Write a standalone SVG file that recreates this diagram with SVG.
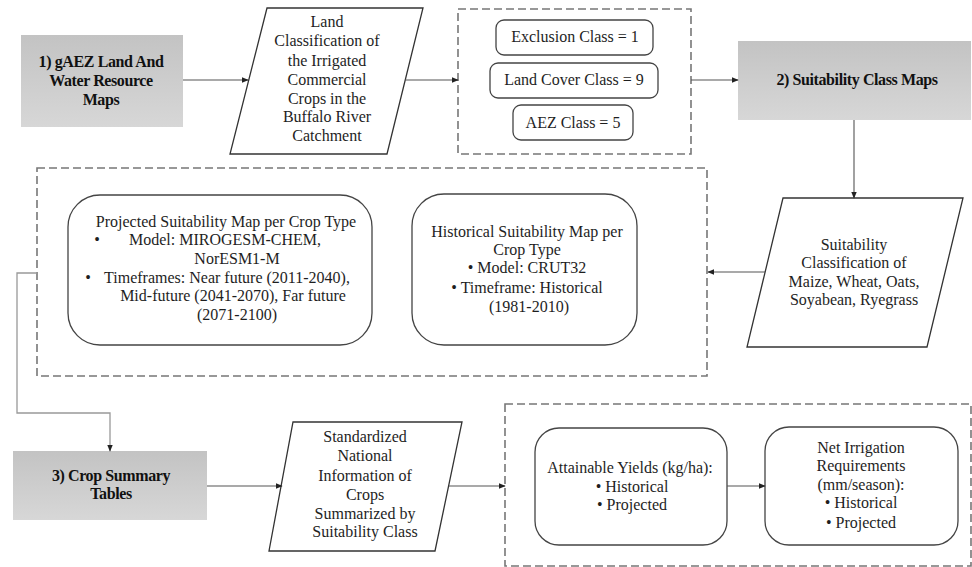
<svg xmlns="http://www.w3.org/2000/svg" width="972" height="567" viewBox="0 0 972 567">
<style>
text{font-family:"Liberation Serif","Times New Roman",serif;font-size:16px;fill:#1e1e1e;text-anchor:middle}
.t{font-weight:bold;font-size:16px;letter-spacing:-0.4px;fill:#111}
.g{fill:url(#gr);stroke:none}
.p{fill:#fff;stroke:#333;stroke-width:1.3}
.r{fill:#fff;stroke:#444;stroke-width:1.3}
.d{fill:none;stroke:#777;stroke-width:1.6;stroke-dasharray:8 4}
.c{fill:none;stroke:#555;stroke-width:1.1}
.c2{fill:none;stroke:#999;stroke-width:1.3}
</style>
<defs>
<linearGradient id="gr" x1="0" y1="0" x2="0" y2="1">
<stop offset="0" stop-color="#c3c3c3"/>
<stop offset="1" stop-color="#d7d7d7"/>
</linearGradient>
<marker id="ah" viewBox="0 0 10 10" refX="9" refY="5" markerWidth="7" markerHeight="7" markerUnits="userSpaceOnUse" orient="auto">
<path d="M0,1 L10,5 L0,9 z" fill="#222"/>
</marker>
</defs>

<g id="gaez">
<rect class="g" x="21" y="35" width="162" height="92"/>
<text class="t" x="101" y="67">1) gAEZ Land And</text>
<text class="t" x="101" y="86">Water Resource</text>
<text class="t" x="101" y="105">Maps</text>
</g>

<g id="land-class">
<polygon class="p" points="267,8 423,8 387,154 230,154"/>
<text x="327" y="27">Land</text>
<text x="327" y="46">Classification of</text>
<text x="327" y="66">the Irrigated</text>
<text x="327" y="85">Commercial</text>
<text x="327" y="104">Crops in the</text>
<text x="327" y="122">Buffalo River</text>
<text x="327" y="141">Catchment</text>
</g>

<g id="classes">
<rect class="d" x="458" y="9" width="233" height="145"/>
<rect class="r" x="496" y="20" width="157" height="35" rx="8"/>
<text x="575" y="42">Exclusion Class = 1</text>
<rect class="r" x="490" y="63" width="168" height="35" rx="8"/>
<text x="574" y="85">Land Cover Class = 9</text>
<rect class="r" x="513" y="105" width="120" height="35" rx="8"/>
<text x="573" y="128">AEZ Class = 5</text>
</g>

<g id="suit-maps">
<rect class="g" x="738" y="41" width="233" height="79"/>
<text class="t" x="857" y="85">2) Suitability Class Maps</text>
</g>

<g id="suit-class">
<polygon class="p" points="783,198 963,198 927,347 747,347"/>
<text x="854" y="250">Suitability</text>
<text x="854" y="268">Classification of</text>
<text x="854" y="287">Maize, Wheat, Oats,</text>
<text x="854" y="305">Soyabean, Ryegrass</text>
</g>

<g id="maps-group">
<rect class="d" x="37" y="168" width="670" height="208"/>
</g>

<g id="projected">
<rect class="r" x="68" y="195" width="304" height="150" rx="32"/>
<text x="226" y="227">Projected Suitability Map per Crop Type</text>
<text x="97" y="245">•</text>
<text x="225" y="245">Model: MIROGESM-CHEM,</text>
<text x="237" y="264">NorESM1-M</text>
<text x="88" y="283">•</text>
<text x="227" y="283">Timeframes: Near future (2011-2040),</text>
<text x="233" y="301">Mid-future (2041-2070), Far future</text>
<text x="237" y="320">(2071-2100)</text>
</g>

<g id="historical">
<rect class="r" x="412" y="194" width="225" height="151" rx="32"/>
<text x="527" y="237">Historical Suitability Map per</text>
<text x="527" y="255">Crop Type</text>
<text x="527" y="273">• Model: CRUT32</text>
<text x="527" y="293">• Timeframe: Historical</text>
<text x="529" y="312">(1981-2010)</text>
</g>

<g id="crop-summary">
<rect class="g" x="13" y="451" width="194" height="69"/>
<text class="t" x="111" y="481">3) Crop Summary</text>
<text class="t" x="111" y="499">Tables</text>
</g>

<g id="standardized">
<polygon class="p" points="293,422 462,422 435,551 269,551"/>
<text x="365" y="442">Standardized</text>
<text x="365" y="461">National</text>
<text x="365" y="481">Information of</text>
<text x="365" y="500">Crops</text>
<text x="365" y="519">Summarized by</text>
<text x="365" y="537">Suitability Class</text>
</g>

<g id="outputs-group">
<rect class="d" x="505" y="404" width="466" height="162"/>
</g>

<g id="yields">
<rect class="r" x="535" y="428" width="192" height="117" rx="24"/>
<text x="630" y="473">Attainable Yields (kg/ha):</text>
<text x="632" y="492">• Historical</text>
<text x="632" y="510">• Projected</text>
</g>

<g id="irrigation">
<rect class="r" x="765" y="427" width="193" height="118" rx="24"/>
<text x="861" y="453">Net Irrigation</text>
<text x="861" y="471">Requirements</text>
<text x="861" y="490">(mm/season):</text>
<text x="861" y="508">• Historical</text>
<text x="861" y="528">• Projected</text>
</g>

<g id="connectors">
<path class="c" d="M183,80 H248" marker-end="url(#ah)"/>
<path class="c" d="M405,80 H458" marker-end="url(#ah)"/>
<path class="c" d="M691,80 H738" marker-end="url(#ah)"/>
<path class="c" d="M854,120 V198" marker-end="url(#ah)"/>
<path class="c" d="M765,272 H708" marker-end="url(#ah)"/>
<path class="c2" d="M37,273 H17 V413 H110 V451" marker-end="url(#ah)"/>
<path class="c" d="M207,486 H282" marker-end="url(#ah)"/>
<path class="c" d="M449,486 H505" marker-end="url(#ah)"/>
<path class="c" d="M727,486 H765" marker-end="url(#ah)"/>
</g>
</svg>
